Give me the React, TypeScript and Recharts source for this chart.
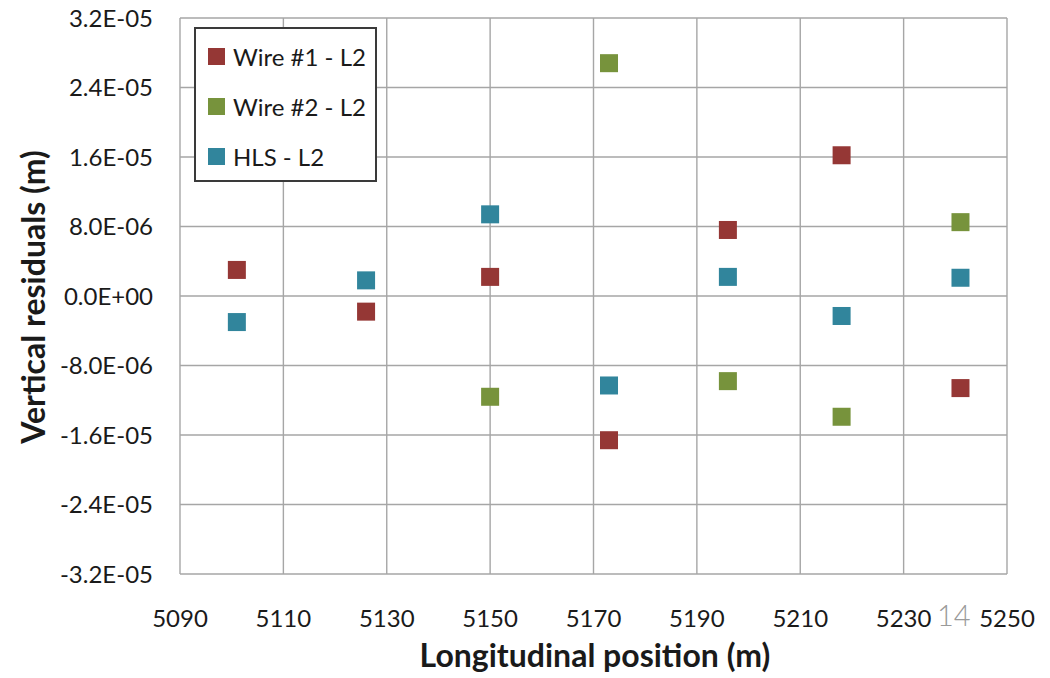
import React from 'react';
import { ScatterChart, Scatter, XAxis, YAxis, CartesianGrid, Label } from 'recharts';

// longitudinal positions of the measurement points (m)
const wire1X = [5101, 5126, 5150, 5173, 5196, 5218, 5241];
const wire1Y = [3.0e-6, -1.8e-6, 2.2e-6, -16.6e-6, 7.6e-6, 16.2e-6, -10.6e-6];

const wire2X = [5150, 5173, 5196, 5218, 5241];
const wire2Y = [-11.6e-6, 26.8e-6, -9.8e-6, -13.9e-6, 8.5e-6];

const hlsX = [5101, 5126, 5150, 5173, 5196, 5218, 5241];
const hlsY = [-3.0e-6, 1.8e-6, 9.4e-6, -10.3e-6, 2.2e-6, -2.3e-6, 2.1e-6];

const xTicks = [5090, 5110, 5130, 5150, 5170, 5190, 5210, 5230, 5250];
const yTicks = [-3.2e-5, -2.4e-5, -1.6e-5, -8e-6, 0, 8e-6, 1.6e-5, 2.4e-5, 3.2e-5];

const toPoints = (xs: number[], ys: number[]) => xs.map((x, i) => ({ x, y: ys[i] }));

const series = [
  { name: 'Wire #1 - L2', color: '#953735', data: toPoints(wire1X, wire1Y) },
  { name: 'Wire #2 - L2', color: '#77933C', data: toPoints(wire2X, wire2Y) },
  { name: 'HLS - L2', color: '#31859C', data: toPoints(hlsX, hlsY) },
];

const FONT = 'Lato, "Open Sans", sans-serif';

const formatSci = (v: number) => {
  if (v === 0) return '0.0E+00';
  const exp = Math.floor(Math.log10(Math.abs(v)) + 1e-9);
  const mant = (v / Math.pow(10, exp)).toFixed(1);
  const sign = exp < 0 ? '-' : '+';
  return `${mant}E${sign}${String(Math.abs(exp)).padStart(2, '0')}`;
};

const Square = (props: any) => {
  const { cx, cy, fill } = props;
  return <rect x={cx - 9} y={cy - 9} width={18} height={18} fill={fill} />;
};

const App = () => {
  return (
    <div
      style={{
        position: 'absolute',
        left: 0,
        top: 0,
        width: 1050,
        height: 678,
        overflow: 'hidden',
        fontFamily: FONT,
        background: '#fff',
      }}
    >
      <ScatterChart width={1050} height={678} margin={{ top: 18, right: 43, bottom: 0, left: 0 }}>
        <CartesianGrid stroke="#a6a6a6" strokeWidth={1.4} />
        <XAxis
          type="number"
          dataKey="x"
          domain={[5090, 5250]}
          ticks={xTicks}
          height={104}
          axisLine={false}
          tickLine={false}
          tickSize={0}
          tickMargin={36}
          tick={{ fill: '#1a1a1a', fontSize: 24, fontFamily: FONT }}
          allowDataOverflow
        >
          <Label
            content={() => (
              <text x={595} y={667} textAnchor="middle" fill="#1a1a1a" fontSize={32} fontWeight="bold" fontFamily={FONT}>
                Longitudinal position (m)
              </text>
            )}
          />
        </XAxis>
        <YAxis
          type="number"
          dataKey="y"
          domain={[-3.2e-5, 3.2e-5]}
          ticks={yTicks}
          width={180}
          axisLine={false}
          tickLine={false}
          tickSize={0}
          tickMargin={27}
          tickFormatter={formatSci}
          tick={{ fill: '#1a1a1a', fontSize: 24, fontFamily: FONT }}
          allowDataOverflow
        >
          <Label
            content={() => (
              <text
                x={32}
                y={297}
                transform="rotate(-90 32 297)"
                textAnchor="middle"
                dominantBaseline="central"
                fill="#1a1a1a"
                fontSize={32}
                fontWeight="bold"
                fontFamily={FONT}
              >
                Vertical residuals (m)
              </text>
            )}
          />
        </YAxis>
        {series.map((s) => (
          <Scatter
            key={s.name}
            name={s.name}
            data={s.data}
            fill={s.color}
            shape={Square}
            isAnimationActive={false}
          />
        ))}
      </ScatterChart>

      <div
        style={{
          position: 'absolute',
          left: 194,
          top: 27,
          width: 179,
          height: 151,
          border: '2px solid #3a3a3a',
          background: '#fff',
          boxSizing: 'content-box',
        }}
      >
        {series.map((s, i) => (
          <div
            key={s.name}
            style={{
              position: 'absolute',
              left: 12,
              top: 15 + i * 50,
              height: 24,
              display: 'flex',
              alignItems: 'center',
              whiteSpace: 'nowrap',
            }}
          >
            <span style={{ display: 'inline-block', width: 17, height: 17, background: s.color, marginRight: 8 }} />
            <span style={{ fontSize: 24, color: '#1a1a1a' }}>{s.name}</span>
          </div>
        ))}
      </div>

      <div style={{ position: 'absolute', left: 937, top: 597, fontSize: 29, color: '#9a9a9a', fontWeight: 300 }}>14</div>
    </div>
  );
};

export default App;
